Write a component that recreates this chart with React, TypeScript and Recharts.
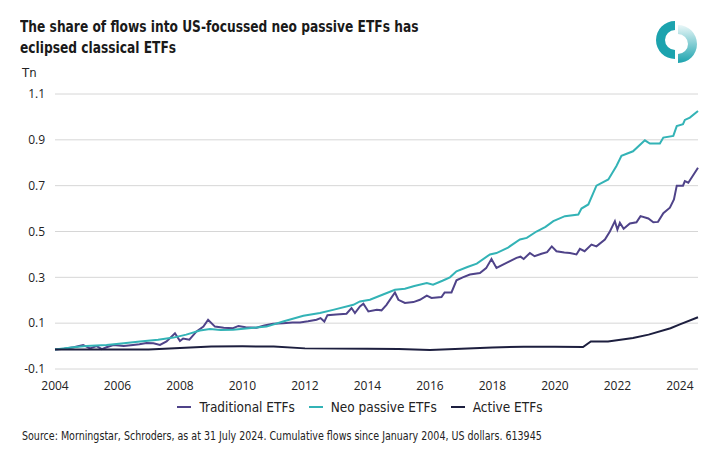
import React from 'react';
import { LineChart, Line, XAxis, YAxis, CartesianGrid } from 'recharts';

// Cumulative flows, Tn USD
const tradYears = [
  2004.0, 2004.3, 2004.6, 2004.9, 2005.12, 2005.33, 2005.5, 2005.65, 2005.87, 2006.2, 2006.5, 2006.7,
  2006.93, 2007.15, 2007.36, 2007.57, 2007.84, 2008.0, 2008.1, 2008.3, 2008.53, 2008.75, 2008.9, 2009.12,
  2009.4, 2009.7, 2009.87, 2010.1, 2010.45, 2010.7, 2010.98, 2011.3, 2011.6, 2011.84, 2012.1, 2012.37,
  2012.5, 2012.62, 2012.72, 2013.0, 2013.33, 2013.49, 2013.6, 2013.76, 2013.87, 2014.03, 2014.3, 2014.45,
  2014.61, 2014.88, 2014.99, 2015.2, 2015.47, 2015.68, 2015.9, 2016.05, 2016.37, 2016.47, 2016.69, 2016.85,
  2017.05, 2017.28, 2017.6, 2017.8, 2017.97, 2018.13, 2018.45, 2018.77, 2018.9, 2019.0, 2019.2, 2019.35,
  2019.57, 2019.75, 2019.9, 2020.05, 2020.3, 2020.48, 2020.69, 2020.8, 2020.95, 2021.17, 2021.33, 2021.6,
  2021.76, 2021.92, 2022.0, 2022.08, 2022.2, 2022.4, 2022.61, 2022.74, 2022.99, 2023.15, 2023.3, 2023.47,
  2023.68, 2023.81, 2023.9, 2024.1, 2024.16, 2024.27, 2024.58,
];
const tradValues = [
  -0.015, -0.012, -0.005, 0.005, -0.01, 0.0, -0.013, -0.005, 0.005, 0.0, 0.005, 0.008,
  0.013, 0.012, 0.005, 0.02, 0.056, 0.022, 0.033, 0.028, 0.064, 0.085, 0.115, 0.085,
  0.08, 0.078, 0.088, 0.082, 0.08, 0.09, 0.097, 0.1, 0.103, 0.103, 0.108, 0.115,
  0.122, 0.107, 0.135, 0.138, 0.141, 0.166, 0.144, 0.173, 0.185, 0.151, 0.158, 0.156,
  0.18, 0.234, 0.202, 0.188, 0.192, 0.202, 0.22, 0.21, 0.214, 0.234, 0.234, 0.287,
  0.3, 0.312, 0.319, 0.34, 0.38, 0.341, 0.363, 0.385, 0.39, 0.38, 0.406, 0.392,
  0.403, 0.41, 0.435, 0.414, 0.408, 0.406, 0.4, 0.424, 0.414, 0.443, 0.435, 0.465,
  0.5, 0.545, 0.508, 0.538, 0.512, 0.535, 0.54, 0.567, 0.557, 0.54, 0.542, 0.58,
  0.604, 0.64, 0.7, 0.7, 0.72, 0.713, 0.778,
];

const neoYears = [
  2004.0, 2004.59, 2005.0, 2005.65, 2006.2, 2006.72, 2007.3, 2007.79, 2008.2, 2008.64, 2008.96, 2009.3,
  2009.7, 2010.2, 2010.77, 2011.3, 2011.95, 2012.48, 2012.9, 2013.55, 2013.76, 2014.08, 2014.5, 2014.88,
  2015.2, 2015.5, 2015.9, 2016.1, 2016.4, 2016.64, 2016.85, 2017.2, 2017.5, 2017.92, 2018.13, 2018.5,
  2018.88, 2019.1, 2019.41, 2019.7, 2019.95, 2020.32, 2020.75, 2020.85, 2021.07, 2021.33, 2021.71, 2021.97,
  2022.13, 2022.5, 2022.88, 2023.04, 2023.36, 2023.47, 2023.79, 2023.9, 2024.1, 2024.16, 2024.32, 2024.58,
];
const neoValues = [
  -0.015, -0.005, 0.0, 0.005, 0.012, 0.02, 0.028, 0.037, 0.05, 0.068, 0.074, 0.07,
  0.071, 0.078, 0.085, 0.107, 0.132, 0.144, 0.158, 0.18, 0.195, 0.202, 0.225, 0.246,
  0.25, 0.262, 0.275, 0.268, 0.285, 0.3, 0.326, 0.345, 0.36, 0.4, 0.406, 0.43,
  0.465, 0.472, 0.5, 0.52, 0.545, 0.567, 0.574, 0.6, 0.618, 0.7, 0.727, 0.786,
  0.83, 0.85, 0.898, 0.884, 0.884, 0.91, 0.917, 0.96, 0.968, 0.987, 0.997, 1.026,
];

const activeYears = [
  2004.0, 2007.0, 2008.0, 2009.0, 2010.0, 2011.0, 2012.0, 2014.0, 2015.0, 2016.0, 2017.0, 2018.0,
  2019.0, 2020.0, 2020.9, 2021.15, 2021.7, 2022.5, 2023.0, 2023.7, 2024.0, 2024.58,
];
const activeValues = [
  -0.015, -0.015, -0.008, -0.002, -0.001, -0.002, -0.01, -0.012, -0.013, -0.017, -0.012, -0.006,
  -0.003, -0.003, -0.004, 0.02, 0.02, 0.035, 0.05, 0.078, 0.095, 0.126,
];

const xTicks = [2004, 2006, 2008, 2010, 2012, 2014, 2016, 2018, 2020, 2022, 2024];
const yTicks = [-0.1, 0.1, 0.3, 0.5, 0.7, 0.9, 1.1];

const series = [
  { name: 'Traditional ETFs', color: '#4f4389', years: tradYears, values: tradValues },
  { name: 'Neo passive ETFs', color: '#33b3b6', years: neoYears, values: neoValues },
  { name: 'Active ETFs', color: '#1d1f3f', years: activeYears, values: activeValues },
];

const toRows = (years: number[], values: number[]) => years.map((t, i) => ({ t, v: values[i] }));

const narrow = "'DejaVu Sans Condensed', 'DejaVu Sans', sans-serif";
const tickFont = "'Open Sans', 'Noto Sans', sans-serif";

const Logo = () => {
  const R = 19;
  const r = 10;
  const lx = 675, ly = 40;
  const rx = 678, ry = 44;
  return (
    <svg width={720} height={80} style={{ position: 'absolute', left: 0, top: 0 }}>
      <defs>
        <linearGradient id="lg" x1="0" y1="0" x2="0" y2="1">
          <stop offset="0%" stopColor="#eaf7f8" />
          <stop offset="100%" stopColor="#1ca3ae" />
        </linearGradient>
      </defs>
      <path
        d={`M${lx},${ly - R} A${R},${R} 0 0 0 ${lx},${ly + R} L${lx},${ly + r} A${r},${r} 0 0 1 ${lx},${ly - r} Z`}
        fill="#1ca3ae"
      />
      <path
        d={`M${rx},${ry - R} A${R},${R} 0 0 1 ${rx},${ry + R} L${rx},${ry + r} A${r},${r} 0 0 0 ${rx},${ry - r} Z`}
        fill="url(#lg)"
      />
    </svg>
  );
};

export default function App() {
  return (
    <div style={{ position: 'absolute', left: 0, top: 0, width: 720, height: 463, background: '#fff', color: '#1e1e1e' }}>
      <div
        style={{
          position: 'absolute', left: 20, top: 16, fontFamily: narrow, fontWeight: 700,
          fontSize: 16, lineHeight: '21px', color: '#1a1a1a', whiteSpace: 'nowrap',
          transform: 'scaleX(0.85)', transformOrigin: 'left top',
        }}
      >
        The share of flows into US-focussed neo passive ETFs has
        <br />
        eclipsed classical ETFs
      </div>
      <Logo />
      <div style={{ position: 'absolute', left: 22, top: 65, fontFamily: narrow, fontSize: 13, color: '#222' }}>Tn</div>

      <div style={{ position: 'absolute', left: 0, top: 0 }}>
        <LineChart width={720} height={463} margin={{ top: 94, right: 22, left: 0, bottom: 74 }}>
          <CartesianGrid vertical={false} stroke="#d6d6d6" />
          <XAxis
            dataKey="t"
            type="number"
            domain={[2004, 2024.58]}
            ticks={xTicks}
            axisLine={false}
            tickLine={false}
            tickMargin={6}
            height={20}
            tick={{ fill: '#222', fontSize: 12, fontFamily: tickFont }}
            allowDuplicatedCategory={false}
          />
          <YAxis
            type="number"
            domain={[-0.1, 1.1]}
            ticks={yTicks}
            axisLine={false}
            tickLine={false}
            tickMargin={4}
            width={55}
            tick={{ fill: '#222', fontSize: 12, fontFamily: tickFont }}
          />
          {series.map((s) => (
            <Line
              key={s.name}
              data={toRows(s.years, s.values)}
              dataKey="v"
              name={s.name}
              type="linear"
              stroke={s.color}
              strokeWidth={2}
              dot={false}
              isAnimationActive={false}
            />
          ))}
        </LineChart>
      </div>

      <div
        style={{
          position: 'absolute', left: 0, top: 399, width: 720, display: 'flex', justifyContent: 'center',
          gap: 14, fontFamily: narrow, fontSize: 13.5, color: '#222',
        }}
      >
        {series.map((s) => (
          <div key={s.name} style={{ display: 'flex', alignItems: 'center', gap: 8 }}>
            <span style={{ display: 'inline-block', width: 14, height: 2, background: s.color }} />
            <span>{s.name}</span>
          </div>
        ))}
      </div>

      <div
        style={{
          position: 'absolute', left: 22, top: 429, fontFamily: narrow, fontSize: 11.5, color: '#222',
          whiteSpace: 'nowrap', transform: 'scaleX(0.92)', transformOrigin: 'left top',
        }}
      >
        Source: Morningstar, Schroders, as at 31 July 2024. Cumulative flows since January 2004, US dollars. 613945
      </div>
    </div>
  );
}
